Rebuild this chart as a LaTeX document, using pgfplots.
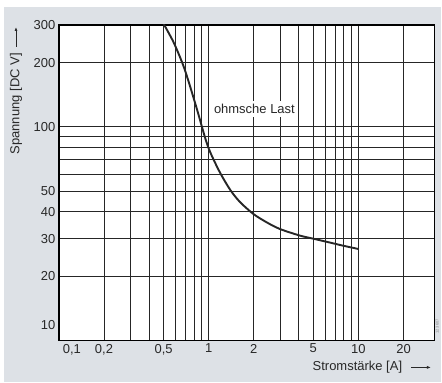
\documentclass[border=0pt]{standalone}
\usepackage{fontspec}
\setmainfont{Liberation Sans}
\usepackage{pgfplots}
\pgfplotsset{compat=1.18}
\usetikzlibrary{arrows.meta}
\definecolor{bgc}{RGB}{221,225,230}
\definecolor{txt}{RGB}{40,40,40}
\newcommand{\lblfont}{\fontsize{13bp}{15bp}\selectfont}
\begin{document}
\begin{tikzpicture}[x=1bp,y=1bp]
\fill[white] (0,0) rectangle (442,383);
\fill[bgc] (4,0) rectangle (442,376);
\begin{axis}[
  at={(59bp,42bp)}, anchor=south west,
  scale only axis, width=376bp, height=316bp,
  xmode=log, ymode=log,
  xmin=0.1, xmax=32.1, ymin=10, ymax=300,
  axis background/.style={fill=white},
  axis line style={line width=1.2bp, black},
  xtick={0.1,0.2,0.5,1,2,5,10,20},
  xticklabels={{\hspace*{26bp}0,1},{0,2},{0,5},1,2,5,10,20},
  minor xtick={0.3,0.4,0.6,0.7,0.8,0.9,3,4,6,7,8,9},
  ytick={10,20,30,40,50,100,200,300},
  yticklabels={{\raisebox{10.5bp}[0pt][0pt]{10}},20,30,40,50,100,200,300},
  minor ytick={60,70,80,90},
  grid=both,
  major grid style={line width=0.9bp, black!85},
  minor grid style={line width=0.9bp, black!85},
  major tick length=0pt, minor tick length=0pt,
  ticklabel style={font=\lblfont, text=txt},
]
\addplot[line width=1.9bp, color=black!85, smooth] coordinates {
(0.490,311.5) (0.580,250.8) (0.666,199.8) (0.721,169.9) (0.778,142.9)
(0.841,118.9) (0.902,100) (0.943,89.7) (0.992,80.5) (1.058,72.3)
(1.202,60.3) (1.401,50.4) (1.622,44.4) (1.989,39.1) (2.428,35.8)
(2.974,33.3) (4.045,31.0) (4.84,30.1) (6.09,29.0) (7.86,27.8) (10,26.8)
};
\node[fill=white, inner sep=3bp, font=\lblfont, text=txt] at (axis cs:2.02,121.5) {ohmsche Last};
\end{axis}
\node[font=\lblfont, text=txt] at (358,15) {Stromstärke [A]};
\draw[line width=0.8bp, txt, -{Latex[length=4bp,width=3bp]}] (411.7,15) -- (431.7,15);
\node[font=\lblfont, text=txt, rotate=90] at (16,279) {Spannung [DC V]};
\draw[line width=0.8bp, txt, -{Latex[length=4bp,width=3bp]}] (16,336) -- (16,356);
\node[font=\fontsize{4bp}{5bp}\selectfont, text=black!50, rotate=90] at (438,56) {12 3607};
\end{tikzpicture}
\end{document}
